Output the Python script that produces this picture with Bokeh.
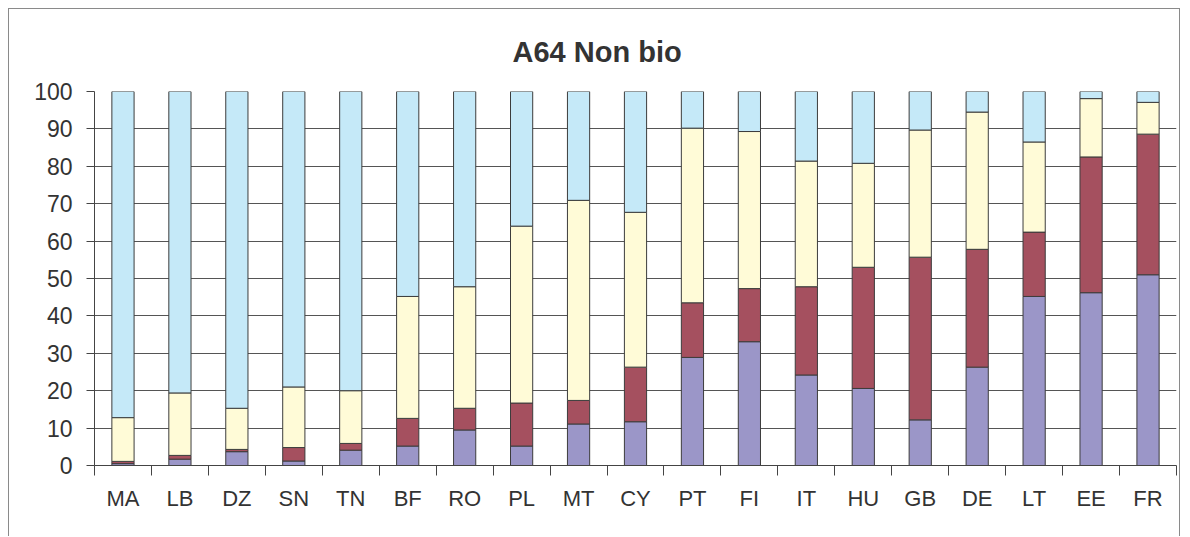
from bokeh.plotting import figure
from bokeh.models import Range1d, LinearAxis, FixedTicker
from bokeh.embed import file_html
from bokeh.resources import INLINE

countries = ["MA", "LB", "DZ", "SN", "TN", "BF", "RO", "PL", "MT", "CY",
             "PT", "FI", "IT", "HU", "GB", "DE", "LT", "EE", "FR"]
# segment sizes (percent) bottom -> top
purple = [0.5, 1.7, 3.7, 1.2, 4.1, 5.2, 9.5, 5.2, 11.1, 11.7,
          28.9, 33.1, 24.2, 20.6, 12.2, 26.3, 45.2, 46.2, 51.0]
red = [0.6, 1.0, 0.6, 3.6, 1.8, 7.4, 5.8, 11.5, 6.3, 14.6,
       14.6, 14.2, 23.6, 32.4, 43.5, 31.5, 17.2, 36.3, 37.6]
yellow = [11.7, 16.7, 11.0, 16.2, 14.1, 32.6, 32.5, 47.3, 53.5, 41.4,
          46.7, 42.0, 33.6, 27.8, 34.0, 36.7, 24.1, 15.6, 8.5]
blue = [87.2, 80.6, 84.7, 79.0, 80.0, 54.8, 52.2, 36.0, 29.1, 32.3,
        9.8, 10.7, 18.6, 19.2, 10.3, 5.5, 13.5, 1.9, 2.9]
series = ["purple", "red", "yellow", "blue"]
colors = ["#9b96c8", "#a5505f", "#fffbd7", "#c5e9f8"]
yticks = [0, 10, 20, 30, 40, 50, 60, 70, 80, 90, 100]
title_text = "A64 Non bio"

FONT = "Liberation Sans"
n = len(countries)
centers = [i + 0.5 for i in range(n)]
bounds = list(range(n + 1))

p = figure(x_range=Range1d(0, n), y_range=Range1d(0, 100),
           width=1172, height=528, output_backend="svg", toolbar_location=None,
           x_axis_location=None, y_axis_location=None,
           min_border_left=85, min_border_right=5, min_border_top=82, min_border_bottom=72)
p.styles = {"margin-left": "8px", "margin-top": "8px",
            "border-left": "1px solid #8a8a8a", "border-top": "1px solid #8a8a8a",
            "border-right": "1px solid #8a8a8a"}

p.title.text = title_text
p.title.align = "left"
p.title.offset = 418
p.title.standoff = 48
p.title.text_font = FONT
p.title.text_font_size = "29px"
p.title.text_font_style = "bold"
p.title.text_color = "#333333"

src = dict(x=centers, purple=purple, red=red, yellow=yellow, blue=blue)
p.vbar_stack(series, x="x", width=0.39, color=colors, source=src,
             line_color="#3c3c3c", line_width=1)

xax = LinearAxis(ticker=FixedTicker(ticks=centers, minor_ticks=bounds),
                 major_label_overrides={c: name for c, name in zip(centers, countries)})
xax.axis_line_color = "#444444"
xax.major_tick_line_color = None
xax.major_tick_out = 10
xax.major_tick_in = 0
xax.minor_tick_line_color = "#444444"
xax.minor_tick_out = 10
xax.minor_tick_in = 0
xax.major_label_text_font = FONT
xax.major_label_text_font_size = "22px"
xax.major_label_text_color = "#333333"
xax.major_label_standoff = 10
p.add_layout(xax, "below")

yax = LinearAxis(ticker=FixedTicker(ticks=yticks))
yax.major_tick_out = 8
yax.major_tick_in = 0
yax.minor_tick_line_color = None
yax.axis_line_color = "#444444"
yax.major_tick_line_color = "#444444"
yax.major_label_text_font = FONT
yax.major_label_text_font_size = "23px"
yax.major_label_text_color = "#333333"
yax.major_label_standoff = 14
p.add_layout(yax, "left")

p.xgrid.grid_line_color = None
p.ygrid.ticker = FixedTicker(ticks=yticks)
p.ygrid.grid_line_color = "#555555"
p.ygrid.grid_line_width = 1
p.outline_line_color = None
p.background_fill_color = "white"
p.border_fill_color = "white"

open("out.html", "w").write(file_html(p, INLINE))
